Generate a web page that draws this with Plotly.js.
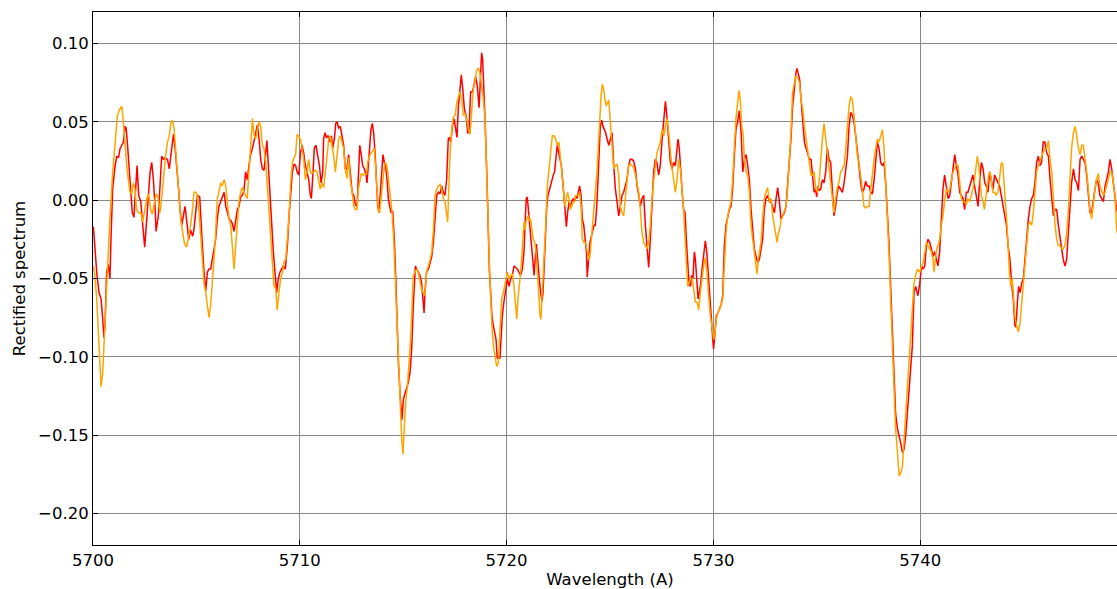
<!DOCTYPE html>
<html><head><meta charset="utf-8">
<script src="https://cdn.plot.ly/plotly-3.0.1.min.js"></script>
<style>html,body{margin:0;padding:0;overflow:hidden;background:#fff}#chart{width:1127px;height:589px}</style>
</head><body><div id="chart"></div>
<script>
const redWavelength = [
5700.02,5700.18,5700.29,5700.39,5700.47,5700.53,5700.58,5700.66,5700.74,5700.82,5700.87,5700.95,5701.06,5701.15,5701.23,5701.31,5701.39,5701.47,5701.55,5701.60,5701.66,5701.74,5701.82,5701.90,5701.98,5702.05,5702.13,5702.21,5702.31,5702.40,5702.50,5702.60,5702.69,5702.76,5702.84,5702.92,5703.00,5703.05,5703.16,5703.24,5703.32,5703.40,5703.48,5703.60,5703.69,5703.76,5703.84,5703.89,5703.97,5704.08,5704.14,5704.21,5704.29,5704.37,5704.45,5704.53,5704.63,5704.72,5704.82,
5704.88,5704.97,5705.05,5705.16,5705.21,5705.29,5705.37,5705.45,5705.53,5705.61,5705.69,5705.77,5705.85,5705.93,5706.01,5706.09,5706.17,5706.25,5706.34,5706.42,5706.50,5706.58,5706.66,5706.74,5706.82,5706.90,5706.98,5707.06,5707.14,5707.22,5707.30,5707.38,5707.46,5707.54,5707.62,5707.71,5707.79,5707.87,5707.95,5708.03,5708.11,5708.19,5708.27,5708.35,5708.41,5708.48,5708.56,5708.64,5708.72,5708.80,5708.88,5708.96,5709.04,5709.12,5709.20,5709.30,5709.40,5709.48,5709.56,5709.64,5709.72,5709.80,
5709.87,5709.95,5710.03,5710.11,5710.19,5710.27,5710.35,5710.43,5710.51,5710.56,5710.64,5710.70,5710.78,5710.86,5710.95,5711.03,5711.11,5711.15,5711.22,5711.28,5711.36,5711.45,5711.53,5711.59,5711.67,5711.74,5711.80,5711.88,5711.96,5712.04,5712.12,5712.20,5712.28,5712.36,5712.44,5712.53,5712.61,5712.69,5712.77,5712.83,5712.90,5712.96,5713.04,5713.12,5713.20,5713.25,5713.31,5713.38,5713.44,5713.51,5713.57,5713.64,5713.70,5713.77,5713.83,5713.90,5713.96,5714.02,5714.09,5714.15,5714.22,5714.28,5714.35,5714.41,5714.49,5714.57,5714.64,5714.70,5714.77,
5714.85,5714.94,5715.01,5715.09,5715.17,5715.25,5715.33,5715.41,5715.49,5715.54,5715.59,5715.65,5715.73,5715.81,5715.89,5715.97,5716.01,5716.05,5716.13,5716.22,5716.30,5716.38,5716.46,5716.54,5716.62,5716.70,5716.78,5716.86,5716.94,5717.02,5717.10,5717.18,5717.23,5717.30,5717.38,5717.46,5717.54,5717.60,5717.67,5717.75,5717.81,5717.88,5717.96,5718.04,5718.12,5718.18,5718.26,5718.34,5718.42,5718.50,5718.58,5718.67,5718.73,5718.79,5718.84,5718.91,5718.97,5719.04,5719.10,5719.17,5719.23,5719.29,5719.36,5719.42,5719.49,5719.55,5719.62,5719.68,5719.73,5719.79,
5719.87,5719.96,5720.04,5720.12,5720.20,5720.28,5720.36,5720.44,5720.52,5720.60,5720.68,5720.76,5720.84,5720.89,5720.95,5721.00,5721.05,5721.12,5721.16,5721.21,5721.28,5721.33,5721.39,5721.44,5721.49,5721.53,5721.60,5721.65,5721.71,5721.76,5721.81,5721.87,5721.94,5722.00,5722.07,5722.13,5722.20,5722.26,5722.32,5722.39,5722.45,5722.52,5722.58,5722.65,5722.71,5722.78,5722.84,5722.89,5722.95,5723.02,5723.08,5723.15,5723.21,5723.28,5723.34,5723.40,5723.47,5723.53,5723.60,5723.66,5723.73,5723.79,5723.86,5723.90,5723.97,5724.03,5724.10,5724.16,5724.23,5724.29,5724.36,5724.42,5724.47,5724.53,5724.60,5724.66,5724.73,5724.79,
5724.86,5724.94,5725.02,5725.10,5725.18,5725.26,5725.34,5725.42,5725.50,5725.58,5725.66,5725.74,5725.82,5725.90,5725.98,5726.06,5726.14,5726.23,5726.31,5726.39,5726.47,5726.55,5726.63,5726.71,5726.79,5726.87,5726.95,5727.03,5727.11,5727.19,5727.27,5727.35,5727.43,5727.52,5727.60,5727.68,5727.76,5727.84,5727.92,5728.00,5728.08,5728.16,5728.24,5728.29,5728.35,5728.43,5728.50,5728.56,5728.63,5728.69,5728.76,5728.82,5728.89,5728.95,5729.01,5729.08,5729.13,5729.19,5729.26,5729.32,5729.39,5729.45,5729.53,5729.61,5729.68,5729.74,5729.80,
5729.88,5729.97,5730.01,5730.08,5730.14,5730.21,5730.29,5730.37,5730.45,5730.53,5730.61,5730.69,5730.77,5730.85,5730.93,5731.01,5731.09,5731.17,5731.25,5731.34,5731.42,5731.50,5731.58,5731.66,5731.74,5731.82,5731.90,5731.98,5732.06,5732.14,5732.22,5732.30,5732.38,5732.46,5732.54,5732.62,5732.71,5732.79,5732.87,5732.95,5733.03,5733.11,5733.19,5733.27,5733.35,5733.43,5733.51,5733.59,5733.67,5733.75,5733.83,5733.91,5733.99,5734.04,5734.11,5734.17,5734.24,5734.32,5734.40,5734.48,5734.56,5734.64,5734.72,5734.80,
5734.87,5734.95,5734.99,5735.06,5735.11,5735.19,5735.27,5735.35,5735.43,5735.51,5735.59,5735.67,5735.75,5735.83,5735.91,5735.99,5736.07,5736.15,5736.24,5736.32,5736.40,5736.48,5736.56,5736.64,5736.72,5736.80,5736.88,5736.96,5737.04,5737.12,5737.20,5737.28,5737.36,5737.44,5737.53,5737.61,5737.69,5737.77,5737.85,5737.93,5738.01,5738.09,5738.17,5738.25,5738.33,5738.41,5738.49,5738.57,5738.65,5738.73,5738.81,5738.90,5738.98,5739.06,5739.14,5739.22,5739.30,5739.38,5739.46,5739.54,5739.62,5739.70,5739.78,
5739.89,5739.98,5740.06,5740.14,5740.22,5740.30,5740.38,5740.46,5740.54,5740.62,5740.70,5740.78,5740.86,5740.94,5741.02,5741.10,5741.18,5741.26,5741.35,5741.43,5741.51,5741.59,5741.67,5741.75,5741.83,5741.91,5741.99,5742.07,5742.15,5742.23,5742.31,5742.39,5742.47,5742.55,5742.63,5742.72,5742.80,5742.88,5742.96,5743.04,5743.12,5743.20,5743.28,5743.36,5743.44,5743.52,5743.60,5743.68,5743.76,5743.84,5743.92,5744.00,5744.09,5744.17,5744.25,
5744.34,5744.42,5744.50,5744.58,5744.63,5744.70,5744.76,5744.83,5744.91,5744.99,5745.07,5745.15,5745.23,5745.31,5745.39,5745.47,5745.55,5745.63,5745.71,5745.79,5745.87,5745.95,5746.03,5746.12,5746.20,5746.28,5746.36,5746.44,5746.52,5746.60,5746.68,5746.76,5746.84,5746.92,5747.00,5747.08,5747.16,5747.24,5747.32,5747.41,5747.49,5747.57,5747.65,5747.73,5747.81,5747.89,5747.97,5748.05,5748.13,5748.21,5748.29,5748.37,5748.45,5748.53,5748.61,5748.69,5748.78,5748.86,5748.94,5749.02,5749.10,5749.18,5749.26,5749.34,5749.42,5749.50,5749.60];
const redFlux = [
-0.017,-0.046,-0.059,-0.063,-0.076,-0.088,-0.080,-0.046,-0.041,-0.050,-0.025,0.007,0.021,0.028,0.027,0.033,0.035,0.037,0.047,0.046,0.037,0.022,0.007,-0.008,-0.011,0.003,0.022,0.003,-0.001,-0.015,-0.030,-0.012,0.005,0.018,0.024,0.013,-0.004,-0.020,-0.010,0.009,0.028,0.026,0.027,0.026,0.020,0.028,0.037,0.042,0.033,0.018,0.007,-0.006,-0.016,-0.010,-0.004,-0.013,-0.025,-0.019,-0.023,
-0.019,-0.008,0.003,0.002,-0.012,-0.029,-0.046,-0.058,-0.046,-0.044,-0.044,-0.038,-0.033,-0.025,-0.012,-0.004,-0.001,0.002,0.005,-0.004,-0.008,-0.012,-0.013,-0.015,-0.020,-0.013,-0.006,-0.004,0.002,0.003,0.006,0.018,0.013,0.022,0.029,0.033,0.038,0.041,0.048,0.039,0.026,0.020,0.019,0.030,0.038,0.022,0.001,-0.021,-0.033,-0.046,-0.059,-0.050,-0.046,-0.044,-0.042,-0.044,-0.029,-0.010,0.007,0.018,0.023,0.022,
0.018,0.016,0.030,0.035,0.030,0.022,0.018,0.013,0.003,0.001,0.018,0.033,0.035,0.028,0.022,0.011,0.018,0.039,0.043,0.040,0.041,0.037,0.041,0.033,0.039,0.049,0.050,0.046,0.047,0.041,0.035,0.020,0.020,0.029,0.018,0.005,0.003,-0.003,-0.004,0.018,0.035,0.030,0.022,0.020,0.016,0.011,0.023,0.037,0.045,0.049,0.043,0.030,0.013,-0.004,-0.008,0.005,0.022,0.029,0.024,0.022,0.013,0.001,-0.004,-0.008,-0.007,-0.025,-0.050,-0.078,-0.104,
-0.124,-0.140,-0.127,-0.123,-0.120,-0.116,-0.110,-0.095,-0.067,-0.050,-0.042,-0.044,-0.046,-0.048,-0.053,-0.063,-0.072,-0.059,-0.046,-0.044,-0.040,-0.036,-0.027,-0.008,0.003,0.005,0.004,0.009,0.005,0.003,0.013,0.039,0.040,0.037,0.047,0.052,0.045,0.040,0.060,0.073,0.080,0.071,0.058,0.054,0.043,0.043,0.069,0.069,0.073,0.079,0.073,0.059,0.079,0.094,0.090,0.071,0.047,0.018,-0.014,-0.046,-0.059,-0.074,-0.080,-0.084,-0.089,-0.101,-0.100,-0.101,-0.089,-0.074,
-0.065,-0.055,-0.050,-0.055,-0.050,-0.048,-0.042,-0.043,-0.044,-0.046,-0.048,-0.044,-0.033,-0.016,0.001,0.002,-0.006,-0.012,-0.021,-0.029,-0.042,-0.048,-0.036,-0.028,-0.036,-0.044,-0.053,-0.059,-0.065,-0.059,-0.046,-0.021,-0.004,0.003,0.007,0.009,0.013,0.016,0.018,0.026,0.035,0.030,0.026,0.022,0.013,0.003,-0.008,-0.017,-0.008,-0.001,-0.004,-0.001,0.001,-0.001,0.003,0.001,0.007,0.009,0.003,-0.012,-0.016,-0.025,-0.033,-0.049,-0.038,-0.027,-0.023,-0.019,-0.016,-0.016,-0.004,0.013,0.033,0.047,0.051,0.047,0.045,0.043,
0.039,0.035,0.039,0.043,0.022,0.007,-0.001,-0.010,-0.004,0.003,0.005,0.009,0.013,0.022,0.026,0.026,0.025,0.020,0.009,0.003,-0.004,0.001,0.003,-0.016,-0.033,-0.043,-0.025,0.001,0.018,0.026,0.024,0.016,0.022,0.039,0.054,0.063,0.052,0.039,0.024,0.020,0.024,0.022,0.035,0.039,0.033,0.013,0.003,-0.006,-0.008,-0.025,-0.042,-0.053,-0.055,-0.048,-0.050,-0.033,-0.038,-0.053,-0.063,-0.059,-0.053,-0.044,-0.033,-0.026,-0.033,-0.046,-0.059,
-0.072,-0.089,-0.095,-0.082,-0.074,-0.072,-0.070,-0.067,-0.061,-0.029,-0.016,-0.010,-0.006,-0.004,0.007,0.028,0.045,0.050,0.057,0.043,0.018,0.026,0.029,0.022,0.013,-0.006,-0.021,-0.031,-0.036,-0.040,-0.038,-0.031,-0.025,-0.006,0.001,0.003,-0.001,-0.001,-0.004,-0.008,0.001,0.008,-0.001,-0.012,-0.010,-0.008,-0.004,0.009,0.022,0.039,0.060,0.073,0.081,0.084,0.081,0.077,0.064,0.052,0.037,0.033,0.030,0.026,0.026,0.013,
0.005,0.007,0.002,0.009,0.006,0.007,0.013,0.011,0.018,0.033,0.026,0.024,0.009,-0.010,-0.004,0.005,0.009,0.007,0.005,0.011,0.020,0.028,0.047,0.056,0.054,0.050,0.041,0.033,0.022,0.011,0.005,0.007,0.012,0.009,0.009,0.005,0.004,0.013,0.026,0.037,0.033,0.024,0.022,0.024,0.011,-0.006,-0.027,-0.055,-0.084,-0.110,-0.136,-0.146,-0.150,-0.155,-0.161,-0.159,-0.150,-0.136,-0.123,-0.112,-0.093,-0.059,-0.055,
-0.061,-0.053,-0.042,-0.044,-0.042,-0.029,-0.025,-0.027,-0.031,-0.036,-0.033,-0.038,-0.042,-0.033,-0.016,0.007,0.016,0.009,0.001,0.003,0.011,0.020,0.029,0.022,0.016,0.005,0.003,0.001,-0.006,0.005,0.005,0.009,0.013,0.016,0.009,0.003,-0.004,0.013,0.024,0.020,0.011,0.009,0.005,0.018,0.011,0.007,0.016,0.013,0.011,0.009,0.003,-0.004,-0.010,-0.016,-0.029,
-0.038,-0.053,-0.063,-0.080,-0.081,-0.065,-0.055,-0.059,-0.053,-0.050,-0.036,-0.025,-0.012,-0.004,0.001,0.003,0.011,0.024,0.028,0.022,0.024,0.037,0.037,0.030,0.028,0.013,-0.001,-0.010,-0.006,-0.006,-0.016,-0.025,-0.031,-0.038,-0.042,-0.038,-0.021,-0.010,0.011,0.020,0.013,0.011,0.006,0.026,0.028,0.026,0.024,0.016,0.003,-0.008,-0.008,0.001,0.007,0.013,0.011,0.003,0.001,-0.001,0.009,0.013,0.018,0.026,0.020,0.011,0.001,-0.006,-0.010];

const orangeWavelength = [
5700.02,5700.10,5700.18,5700.26,5700.34,5700.39,5700.47,5700.55,5700.63,5700.71,5700.79,5700.87,5700.95,5701.02,5701.10,5701.18,5701.26,5701.39,5701.44,5701.52,5701.63,5701.71,5701.79,5701.87,5701.95,5702.03,5702.11,5702.19,5702.31,5702.40,5702.50,5702.60,5702.69,5702.79,5702.87,5702.95,5703.05,5703.14,5703.24,5703.32,5703.40,5703.50,5703.60,5703.69,5703.76,5703.84,5703.92,5704.00,5704.08,5704.16,5704.24,5704.34,5704.43,5704.53,5704.63,5704.72,5704.82,
5704.88,5704.97,5705.05,5705.13,5705.21,5705.29,5705.37,5705.45,5705.53,5705.61,5705.69,5705.77,5705.85,5705.93,5706.01,5706.09,5706.17,5706.25,5706.34,5706.42,5706.50,5706.58,5706.66,5706.74,5706.82,5706.90,5706.98,5707.06,5707.14,5707.22,5707.30,5707.38,5707.46,5707.54,5707.62,5707.71,5707.79,5707.87,5707.95,5708.03,5708.11,5708.19,5708.27,5708.35,5708.43,5708.51,5708.59,5708.67,5708.75,5708.83,5708.91,5708.99,5709.08,5709.16,5709.24,5709.32,5709.40,5709.48,5709.56,5709.64,5709.72,5709.80,
5709.87,5709.95,5710.03,5710.11,5710.19,5710.27,5710.35,5710.43,5710.51,5710.59,5710.67,5710.75,5710.83,5710.91,5710.99,5711.07,5711.15,5711.24,5711.32,5711.40,5711.48,5711.56,5711.64,5711.72,5711.80,5711.88,5711.96,5712.04,5712.12,5712.20,5712.28,5712.36,5712.44,5712.53,5712.61,5712.69,5712.77,5712.83,5712.90,5712.98,5713.06,5713.14,5713.22,5713.28,5713.36,5713.44,5713.52,5713.60,5713.67,5713.73,5713.80,5713.86,5713.93,5713.99,5714.06,5714.12,5714.19,5714.25,5714.31,5714.38,5714.46,5714.54,5714.62,5714.70,5714.77,5714.83,
5714.93,5714.99,5715.06,5715.12,5715.20,5715.28,5715.36,5715.43,5715.49,5715.57,5715.65,5715.73,5715.81,5715.89,5715.97,5716.05,5716.13,5716.22,5716.30,5716.38,5716.46,5716.54,5716.62,5716.70,5716.78,5716.86,5716.94,5717.02,5717.10,5717.15,5717.21,5717.26,5717.34,5717.42,5717.51,5717.59,5717.67,5717.75,5717.83,5717.91,5717.99,5718.07,5718.15,5718.23,5718.31,5718.39,5718.47,5718.55,5718.63,5718.71,5718.79,5718.88,5718.96,5719.04,5719.10,5719.17,5719.23,5719.29,5719.36,5719.44,5719.52,5719.60,5719.68,5719.76,5719.84,
5719.96,5720.04,5720.12,5720.20,5720.28,5720.36,5720.44,5720.49,5720.55,5720.62,5720.68,5720.76,5720.84,5720.89,5720.95,5721.04,5721.10,5721.16,5721.23,5721.29,5721.36,5721.42,5721.49,5721.55,5721.62,5721.66,5721.73,5721.81,5721.89,5721.97,5722.05,5722.13,5722.21,5722.29,5722.37,5722.45,5722.53,5722.61,5722.70,5722.78,5722.82,5722.89,5722.95,5723.02,5723.08,5723.15,5723.21,5723.28,5723.34,5723.40,5723.47,5723.53,5723.60,5723.66,5723.74,5723.82,5723.90,5723.97,5724.03,5724.10,5724.16,5724.23,5724.31,5724.37,5724.44,5724.50,5724.57,5724.63,5724.69,5724.76,5724.82,
5724.94,5725.02,5725.10,5725.18,5725.26,5725.34,5725.42,5725.50,5725.58,5725.66,5725.74,5725.82,5725.90,5725.98,5726.06,5726.14,5726.23,5726.31,5726.39,5726.47,5726.55,5726.63,5726.71,5726.79,5726.87,5726.95,5727.03,5727.11,5727.19,5727.27,5727.35,5727.43,5727.52,5727.60,5727.68,5727.76,5727.84,5727.92,5728.00,5728.08,5728.16,5728.24,5728.32,5728.40,5728.48,5728.56,5728.63,5728.69,5728.76,5728.82,5728.89,5728.97,5729.05,5729.13,5729.21,5729.29,5729.37,5729.45,5729.53,5729.61,5729.69,5729.77,5729.85,
5729.97,5730.01,5730.08,5730.14,5730.21,5730.29,5730.37,5730.45,5730.53,5730.61,5730.69,5730.77,5730.85,5730.93,5731.01,5731.09,5731.17,5731.24,5731.30,5731.37,5731.43,5731.50,5731.58,5731.66,5731.74,5731.82,5731.90,5731.98,5732.06,5732.11,5732.17,5732.24,5732.30,5732.38,5732.46,5732.54,5732.62,5732.71,5732.79,5732.87,5732.95,5733.03,5733.08,5733.14,5733.20,5733.27,5733.35,5733.43,5733.51,5733.59,5733.67,5733.75,5733.83,5733.91,5733.99,5734.08,5734.16,5734.24,5734.32,5734.40,5734.48,5734.56,5734.64,5734.72,5734.80,
5734.87,5734.95,5735.03,5735.11,5735.19,5735.27,5735.35,5735.43,5735.51,5735.59,5735.67,5735.75,5735.83,5735.91,5735.99,5736.07,5736.15,5736.24,5736.32,5736.40,5736.48,5736.56,5736.64,5736.72,5736.80,5736.88,5736.96,5737.04,5737.12,5737.20,5737.28,5737.36,5737.44,5737.53,5737.61,5737.69,5737.77,5737.85,5737.93,5738.01,5738.09,5738.17,5738.25,5738.33,5738.41,5738.49,5738.57,5738.65,5738.73,5738.81,5738.90,5738.98,5739.06,5739.14,5739.22,5739.30,5739.38,5739.46,5739.54,5739.62,5739.70,5739.78,5739.86,
5739.98,5740.06,5740.14,5740.22,5740.30,5740.38,5740.46,5740.54,5740.62,5740.67,5740.73,5740.80,5740.86,5740.94,5741.02,5741.10,5741.18,5741.26,5741.35,5741.43,5741.51,5741.59,5741.67,5741.75,5741.83,5741.91,5741.99,5742.07,5742.15,5742.23,5742.31,5742.39,5742.47,5742.55,5742.63,5742.72,5742.76,5742.83,5742.89,5742.96,5743.04,5743.10,5743.17,5743.25,5743.31,5743.38,5743.44,5743.52,5743.60,5743.68,5743.76,5743.84,5743.92,5743.99,5744.05,5744.12,5744.18,5744.25,5744.31,
5744.38,5744.45,5744.50,5744.58,5744.66,5744.75,5744.83,5744.91,5744.99,5745.07,5745.15,5745.23,5745.31,5745.39,5745.47,5745.55,5745.63,5745.71,5745.79,5745.87,5745.95,5746.03,5746.12,5746.20,5746.28,5746.36,5746.44,5746.52,5746.60,5746.68,5746.76,5746.84,5746.92,5747.00,5747.08,5747.16,5747.24,5747.32,5747.41,5747.49,5747.57,5747.65,5747.73,5747.81,5747.89,5747.97,5748.05,5748.13,5748.21,5748.29,5748.37,5748.45,5748.53,5748.61,5748.69,5748.78,5748.86,5748.94,5749.02,5749.10,5749.18,5749.26,5749.34,5749.42,5749.50,5749.60];
const orangeFlux = [
-0.042,-0.050,-0.063,-0.084,-0.110,-0.119,-0.110,-0.084,-0.063,-0.042,-0.019,0.003,0.018,0.028,0.041,0.054,0.057,0.060,0.054,0.039,0.022,0.013,0.005,0.004,0.011,0.007,-0.006,-0.008,-0.008,-0.014,-0.005,0.001,0.004,-0.006,-0.009,-0.004,0.004,0.002,-0.008,0.001,0.013,0.027,0.037,0.041,0.049,0.051,0.046,0.033,0.018,0.003,-0.012,-0.021,-0.028,-0.030,-0.023,-0.016,-0.005,
0.005,0.005,0.003,-0.008,-0.025,-0.042,-0.053,-0.059,-0.067,-0.075,-0.067,-0.055,-0.038,-0.021,0.001,0.005,0.011,0.009,0.013,0.009,-0.004,-0.012,-0.016,-0.029,-0.044,-0.029,-0.014,-0.001,0.005,0.008,0.005,0.003,0.001,0.018,0.033,0.052,0.041,0.039,0.045,0.050,0.047,0.035,0.033,0.024,0.009,-0.008,-0.025,-0.042,-0.055,-0.056,-0.070,-0.059,-0.050,-0.046,-0.039,-0.038,-0.025,-0.010,0.011,0.024,0.027,0.029,
0.042,0.040,0.039,0.033,0.026,0.013,0.018,0.026,0.018,0.017,0.018,0.019,0.018,0.013,0.007,0.011,0.008,0.018,0.030,0.039,0.041,0.035,0.028,0.018,0.030,0.039,0.041,0.037,0.033,0.020,0.014,0.027,0.013,0.005,-0.004,-0.006,-0.006,0.007,0.013,0.017,0.016,0.017,0.016,0.024,0.028,0.030,0.031,0.033,0.020,0.005,-0.007,-0.008,0.001,0.013,0.018,0.024,0.023,0.018,0.011,0.001,-0.008,-0.025,-0.050,-0.078,-0.104,-0.127,
-0.153,-0.162,-0.146,-0.129,-0.119,-0.106,-0.089,-0.067,-0.048,-0.046,-0.044,-0.046,-0.053,-0.057,-0.059,-0.061,-0.046,-0.042,-0.038,-0.033,-0.019,0.003,0.007,0.009,0.010,0.007,0.001,-0.001,-0.008,-0.014,0.009,0.028,0.043,0.053,0.054,0.062,0.066,0.069,0.064,0.054,0.055,0.052,0.045,0.042,0.056,0.071,0.075,0.083,0.084,0.081,0.073,0.064,0.050,0.022,-0.010,-0.042,-0.063,-0.080,-0.093,-0.101,-0.106,-0.104,-0.084,-0.063,-0.059,
-0.050,-0.046,-0.050,-0.048,-0.047,-0.055,-0.067,-0.076,-0.063,-0.055,-0.046,-0.031,-0.014,-0.019,-0.013,-0.010,-0.013,-0.012,-0.019,-0.025,-0.027,-0.033,-0.046,-0.063,-0.074,-0.076,-0.059,-0.044,-0.016,0.009,0.020,0.033,0.041,0.041,0.039,0.035,0.037,0.026,0.013,0.003,-0.004,0.001,0.005,0.001,-0.006,-0.004,-0.001,-0.001,0.003,0.003,0.003,0.005,-0.004,-0.025,-0.027,-0.027,-0.033,-0.038,-0.036,-0.025,-0.016,-0.008,0.003,0.018,0.035,0.052,0.067,0.074,0.071,0.064,0.060,
0.064,0.050,0.039,0.020,0.022,0.023,0.016,-0.004,-0.008,-0.010,0.001,0.013,0.022,0.023,0.022,0.021,0.016,0.009,0.005,-0.006,-0.021,-0.027,-0.029,-0.031,-0.027,-0.016,0.001,0.013,0.022,0.030,0.033,0.037,0.045,0.041,0.047,0.052,0.043,0.030,0.020,0.013,0.005,0.013,0.026,0.020,0.007,-0.006,-0.025,-0.042,-0.055,-0.053,-0.050,-0.050,-0.057,-0.065,-0.065,-0.070,-0.059,-0.050,-0.042,-0.037,-0.046,-0.061,-0.074,
-0.084,-0.089,-0.084,-0.076,-0.072,-0.070,-0.067,-0.063,-0.038,-0.021,-0.010,-0.006,-0.001,0.013,0.035,0.052,0.062,0.070,0.064,0.047,0.043,0.026,0.018,0.016,0.005,-0.016,-0.025,-0.033,-0.044,-0.047,-0.038,-0.033,-0.027,-0.012,0.001,0.005,0.008,-0.001,0.001,-0.010,-0.016,-0.023,-0.027,-0.021,-0.019,-0.013,-0.010,-0.008,-0.004,0.007,0.022,0.043,0.069,0.075,0.079,0.078,0.075,0.064,0.058,0.047,0.039,0.033,0.022,0.016,0.016,
0.018,0.007,0.005,0.011,0.026,0.039,0.049,0.039,0.033,0.020,0.011,0.001,-0.008,0.001,0.008,0.011,0.018,0.020,0.022,0.033,0.047,0.060,0.066,0.064,0.054,0.041,0.028,0.024,0.016,0.007,-0.004,-0.005,-0.004,-0.004,0.007,0.018,0.026,0.033,0.039,0.037,0.041,0.045,0.033,0.013,-0.008,-0.033,-0.063,-0.093,-0.123,-0.146,-0.161,-0.176,-0.174,-0.170,-0.153,-0.136,-0.116,-0.097,-0.080,-0.065,-0.053,-0.048,-0.044,
-0.046,-0.042,-0.040,-0.033,-0.027,-0.029,-0.031,-0.033,-0.038,-0.046,-0.038,-0.031,-0.029,-0.025,-0.016,-0.010,-0.001,0.007,0.005,0.007,0.013,0.018,0.020,0.023,0.022,0.009,0.001,-0.001,-0.001,-0.003,0.001,-0.001,0.003,0.007,0.013,0.024,0.028,0.022,0.011,0.003,-0.001,-0.006,0.001,0.009,0.016,0.018,0.011,0.005,0.005,0.003,0.005,0.016,0.024,0.023,0.013,0.001,-0.012,-0.029,-0.046,
-0.055,-0.050,-0.059,-0.074,-0.080,-0.084,-0.078,-0.065,-0.050,-0.038,-0.025,-0.016,-0.014,-0.016,-0.008,0.007,0.018,0.022,0.024,0.028,0.030,0.033,0.033,0.038,0.026,0.018,0.001,-0.016,-0.025,-0.029,-0.029,-0.031,-0.031,-0.029,-0.021,-0.008,0.013,0.033,0.043,0.047,0.041,0.033,0.029,0.035,0.035,0.028,0.018,0.007,-0.006,-0.012,-0.001,0.007,0.013,0.017,0.009,0.005,0.003,0.005,0.009,0.013,0.018,0.018,0.009,0.003,-0.019,-0.025];

const xTickValues = [5700, 5710, 5720, 5730, 5740, 5750];
const xTickLabels = ['5700', '5710', '5720', '5730', '5740', '5750'];
const yTickValues = [-0.20, -0.15, -0.10, -0.05, 0.00, 0.05, 0.10];
const yTickLabels = ['\u22120.20', '\u22120.15', '\u22120.10', '\u22120.05', '0.00', '0.05', '0.10'];

const font = {family: 'DejaVu Sans, sans-serif', size: 16.5, color: '#000'};
const axisCommon = {
  showline: true, linecolor: '#000', linewidth: 1, mirror: 'ticks',
  ticks: 'inside', ticklen: 5, tickwidth: 1, tickcolor: '#000',
  showgrid: true, gridcolor: '#888888', gridwidth: 1, zeroline: false,
  tickfont: font, automargin: false, fixedrange: true
};

const traces = [
  {x: redWavelength, y: redFlux, type: 'scatter', mode: 'lines', line: {color: '#ff0000', width: 1.5}, hoverinfo: 'skip'},
  {x: orangeWavelength, y: orangeFlux, type: 'scatter', mode: 'lines', line: {color: '#ffa500', width: 1.5}, hoverinfo: 'skip'}
];

const layout = {
  width: 1127, height: 589,
  margin: {l: 93, r: 0, t: 12, b: 44},
  paper_bgcolor: '#fff', plot_bgcolor: '#fff',
  showlegend: false, font: font,
  xaxis: Object.assign({}, axisCommon, {
    range: [5700, 5750], tickvals: xTickValues, ticktext: xTickLabels,
    title: {text: 'Wavelength (A)', font: font, standoff: 5}
  }),
  yaxis: Object.assign({}, axisCommon, {
    range: [-0.22, 0.12], tickvals: yTickValues, ticktext: yTickLabels,
    title: {text: 'Rectified spectrum', font: font, standoff: 8}
  })
};

Plotly.newPlot('chart', traces, layout, {displayModeBar: false, staticPlot: true});
</script>
</body></html>
